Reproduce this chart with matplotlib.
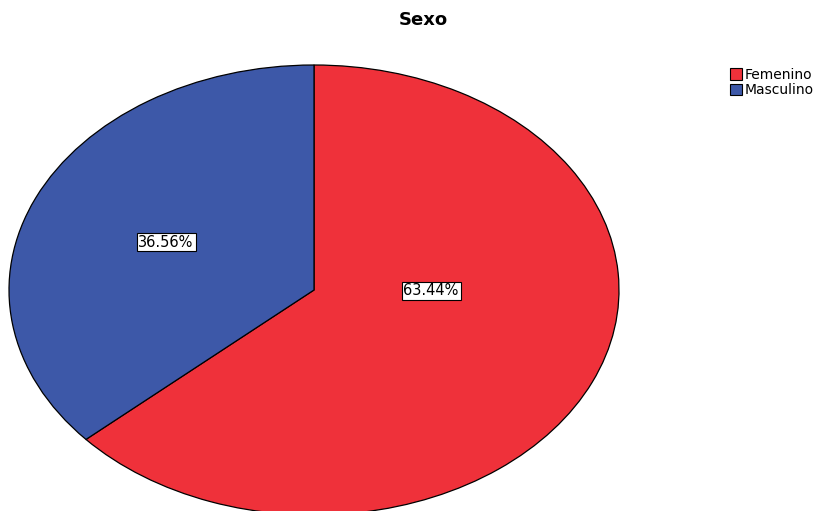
import matplotlib
matplotlib.use("Agg")
import matplotlib.pyplot as plt
from matplotlib.patches import Patch

# Sexo distribution (percent)
categories = ["Femenino", "Masculino"]
percentages = [63.44, 36.56]
colors = ["#EF313A", "#3D58A8"]

plt.rcParams["font.family"] = ["DejaVu Sans"]

fig = plt.figure(figsize=(8.24, 5.11), dpi=100)
# axes stretched so the pie comes out as an ellipse
ax = fig.add_axes([9 / 824, -4 / 511, 610 / 824, 450 / 511])
wedges, _ = ax.pie(percentages, colors=colors, startangle=90, counterclock=False,
                   wedgeprops=dict(edgecolor="black", linewidth=0.9))
ax.set_aspect("auto")
ax.set_xlim(-1, 1)
ax.set_ylim(-1, 1)
ax.axis("off")

# percentage boxes
label_pos = [(0.384, -0.004), (-0.485, 0.213)]
for (x, y), p in zip(label_pos, percentages):
    ax.text(x, y, f"{p:.2f}%", ha="center", va="center", fontsize=10.5,
            bbox=dict(boxstyle="square,pad=0.12", facecolor="white",
                      edgecolor="black", linewidth=0.8))

fig.text(423 / 824, 1 - 20 / 511, "Sexo", ha="center", va="center",
         fontsize=13, fontweight="bold")

handles = [Patch(facecolor=c, edgecolor="black", linewidth=0.8) for c in colors]
fig.legend(handles, categories, loc="upper left", bbox_to_anchor=(720 / 824, 1 - 58 / 511),
           frameon=False, fontsize=10, handlelength=0.9, handleheight=0.9,
           handletextpad=0.2, labelspacing=0.1, borderpad=0.2)

fig.savefig("out.png", dpi=100)
